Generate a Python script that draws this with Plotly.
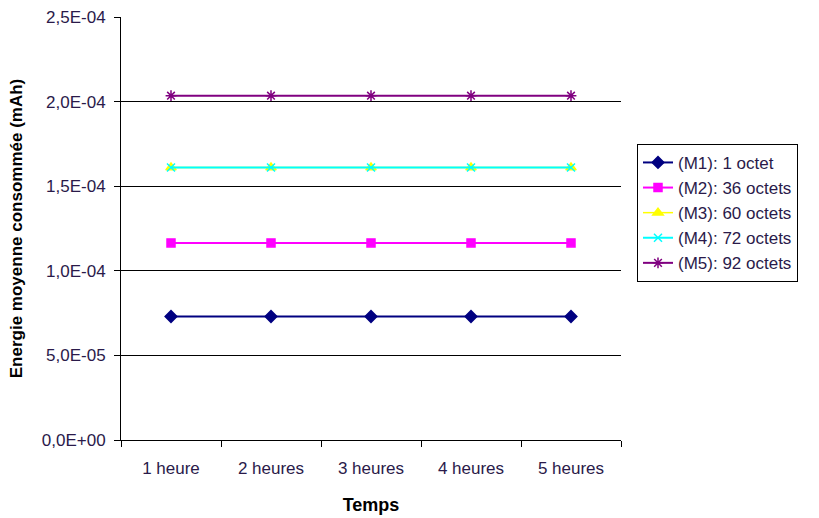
import plotly.graph_objects as go

hours = ["1 heure", "2 heures", "3 heures", "4 heures", "5 heures"]
series_names = [
    "(M1): 1 octet",
    "(M2): 36 octets",
    "(M3): 60 octets",
    "(M4): 72 octets",
    "(M5): 92 octets",
]
m1 = [7.3e-05, 7.3e-05, 7.3e-05, 7.3e-05, 7.3e-05]
m2 = [1.165e-04, 1.165e-04, 1.165e-04, 1.165e-04, 1.165e-04]
m3 = [1.61e-04, 1.61e-04, 1.61e-04, 1.61e-04, 1.61e-04]
m4 = [1.61e-04, 1.61e-04, 1.61e-04, 1.61e-04, 1.61e-04]
m5 = [2.035e-04, 2.035e-04, 2.035e-04, 2.035e-04, 2.035e-04]
y_ticks = [0, 5e-05, 1e-04, 1.5e-04, 2e-04, 2.5e-04]
y_ticktext = ["0,0E+00", "5,0E-05", "1,0E-04", "1,5E-04", "2,0E-04", "2,5E-04"]

# color, marker symbol, marker size, line width
STYLES = [
    ("#000080", "diamond", 9, 2),
    ("#FF00FF", "square", 8, 2),
    ("#FFFF00", "triangle-up", 9, 1.5),
    ("#00FFFF", "x-thin-open", 8, 2),
    ("#800080", "asterisk-open", 9, 2),
]
TEXT_COLOR = "#2a1a4a"

fig = go.Figure()
for name, vals, (color, symbol, size, width) in zip(series_names, [m1, m2, m3, m4, m5], STYLES):
    fig.add_trace(
        go.Scatter(
            x=hours,
            y=vals,
            name=name,
            mode="lines+markers",
            line=dict(color=color, width=width),
            marker=dict(symbol=symbol, size=size, color=color,
                        line=dict(color=color, width=1.5)),
        )
    )

fig.update_layout(
    width=819,
    height=518,
    paper_bgcolor="white",
    plot_bgcolor="white",
    font=dict(family="Liberation Sans, Arial, sans-serif", size=17, color="#000000"),
    margin=dict(l=121, r=198, t=17, b=78),
    showlegend=True,
    legend=dict(
        x=1.032, y=0.70, xanchor="left", yanchor="top",
        bordercolor="#000000", borderwidth=1,
        font=dict(size=17, color=TEXT_COLOR),
        tracegroupgap=0,
    ),
    xaxis=dict(
        type="category",
        range=[-0.5, 4.5],
        tickson="boundaries",
        automargin=False,
        ticks="outside", ticklen=6, tickcolor="#000000",
        ticklabelstandoff=13,
        showline=True, linecolor="#000000", linewidth=1,
        showgrid=False,
        tickfont=dict(color=TEXT_COLOR, size=17),
        title=dict(text="<b>Temps</b>", font=dict(size=18), standoff=20),
    ),
    yaxis=dict(
        range=[0, 2.5e-04],
        tickvals=y_ticks,
        ticktext=y_ticktext,
        automargin=False,
        ticks="outside", ticklen=6, tickcolor="#000000",
        ticklabelstandoff=5,
        showline=True, linecolor="#000000", linewidth=1,
        showgrid=True, gridcolor="#000000", gridwidth=1,
        zeroline=False,
        tickfont=dict(color=TEXT_COLOR, size=17),
        title=dict(text="<b>Energie moyenne consommée (mAh)</b>", font=dict(size=17), standoff=14),
    ),
)

fig.write_html(
    "out.html",
    config={"displayModeBar": False},
    post_script="document.body.style.margin='0';",
)
